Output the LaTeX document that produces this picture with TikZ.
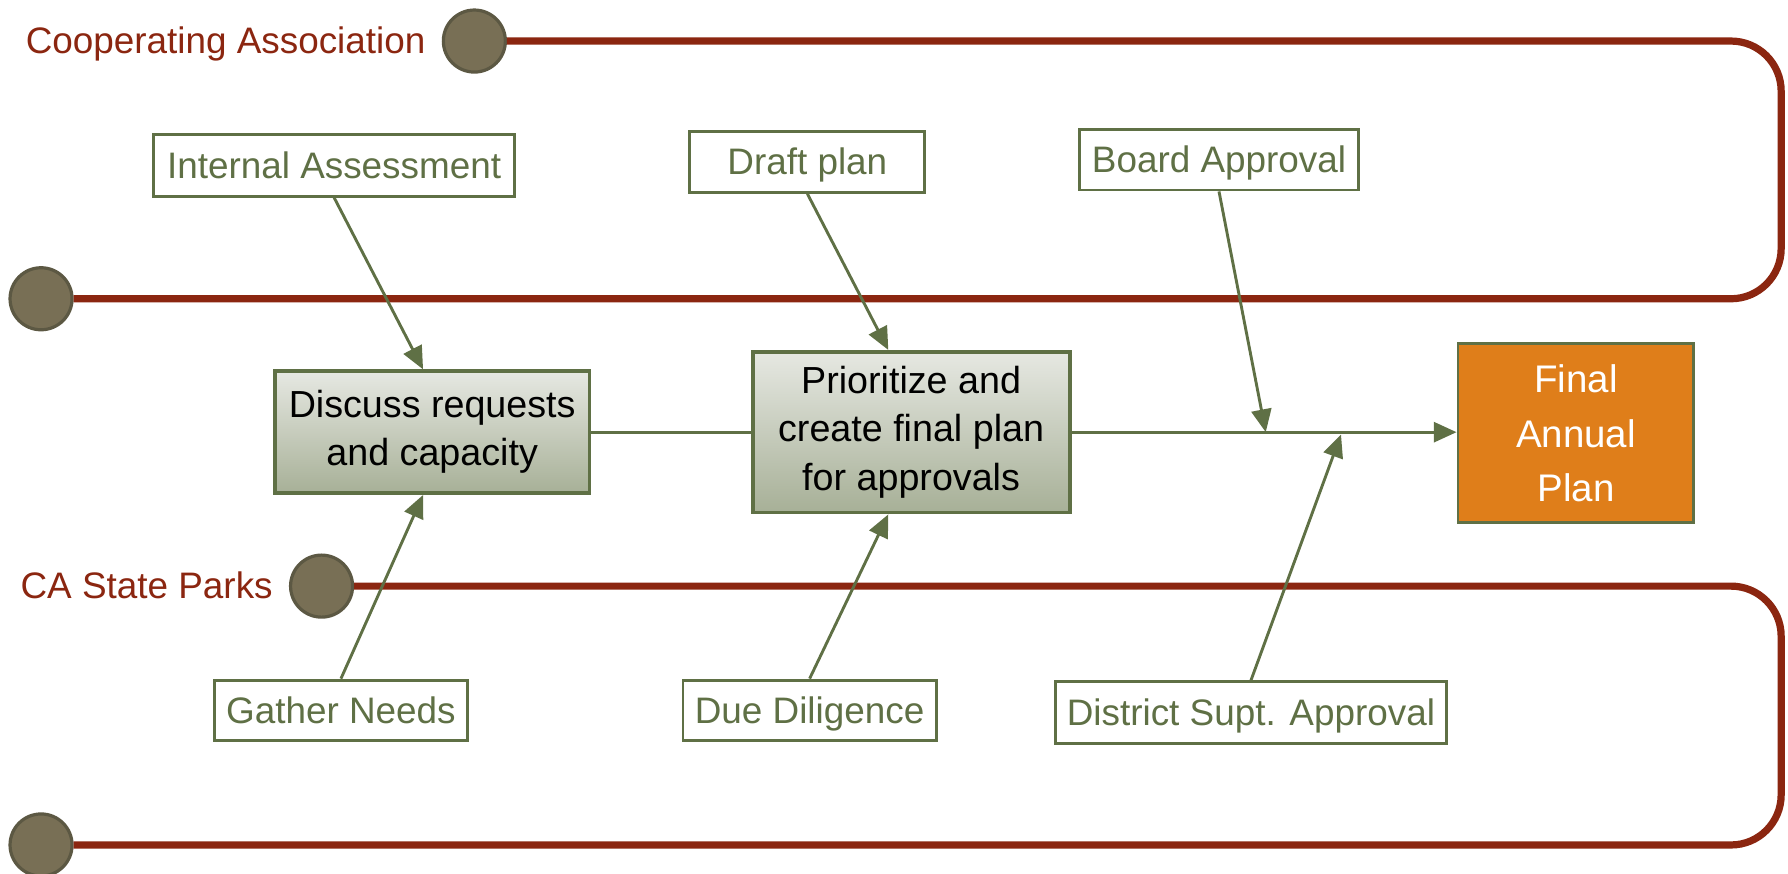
\documentclass[tikz,border=0pt]{standalone}
\usepackage{fontspec}
\setmainfont{Liberation Sans}
\usepackage{xcolor}
\definecolor{rust}{HTML}{8B2610}
\definecolor{moss}{HTML}{5F7045}
\definecolor{stone}{HTML}{786F55}
\definecolor{stonedk}{HTML}{5C5843}
\definecolor{amber}{HTML}{DF7E1A}
\definecolor{sage1}{HTML}{E6E8E2}
\definecolor{sage2}{HTML}{A7B097}
\usetikzlibrary{arrows.meta,positioning,calc}
\tikzset{
  >={Triangle[length=5mm,width=4.4mm]},
  tagbox/.style={draw=moss,line width=1.8pt,fill=white,inner sep=2pt,align=center,text=moss,text height=17pt,text depth=1pt,font=\fontsize{23}{27}\selectfont},
  stepbox/.style={draw=moss,line width=2.4pt,top color=sage1,bottom color=sage2,align=center,font=\fontsize{23.5}{30}\selectfont},
  endbox/.style={draw=moss,line width=1.8pt,fill=amber,text=white,align=center,font=\fontsize{24}{34}\selectfont},
  railend/.style={circle,draw=stonedk,fill=stone,line width=2pt,minimum size=13.6mm,inner sep=0pt},
  rail/.style={draw=rust,line width=4.5pt,rounded corners=11mm},
  lane/.style={text=rust,inner sep=0pt,text height=17pt,text depth=1pt,font=\fontsize{23}{27}\selectfont},
  arr/.style={->,draw=moss,line width=1.8pt},
  link/.style={draw=moss,line width=1.8pt},
}
\begin{document}
\begin{tikzpicture}[x=0.25mm,y=-0.25mm]
\useasboundingbox (0,0) rectangle (1568,766);
% swim lanes
\node[railend] (c1) at (416,36) {};
\node[railend] (c2) at (36,262) {};
\node[railend] (c3) at (282,514) {};
\node[railend] (c4) at (36,741) {};
\node[lane,left=3.5mm of c1] (coop) {Cooperating Association};
\node[lane,left=3.5mm of c3] (csp) {CA State Parks};
\coordinate (t1) at (1562,36); \coordinate (t2) at (1562,262);
\coordinate (b1) at (1562,514); \coordinate (b2) at (1562,741);
\draw[rail] (c1) -- (t1) -- (t2) -- (c2);
\draw[rail] (c3) -- (b1) -- (b2) -- (c4);
% main steps
\node[stepbox,minimum width=69mm,minimum height=26.7mm] (dr) at (379,379) {Discuss requests\\and capacity};
\node[stepbox,minimum width=69.5mm,minimum height=35.2mm] (pr) at (799,379) {Prioritize and\\create final plan\\for approvals};
\node[endbox,minimum width=51.7mm,minimum height=39.2mm] (fp) at (1382,380) {Final\\Annual\\Plan};
% inputs
\node[tagbox,minimum width=79.2mm,minimum height=13.5mm] (ia) at (293,145) {Internal Assessment};
\node[tagbox,minimum width=51.5mm,minimum height=13.3mm] (dp) at (708,142) {Draft plan};
\node[tagbox,minimum width=61mm,minimum height=13.3mm] (ba) at (1069,140) {Board Approval};
\node[tagbox,minimum width=55.5mm,minimum height=13.3mm] (gn) at (299,623) {Gather Needs};
\node[tagbox,minimum width=55.5mm,minimum height=13.3mm] (dd) at (710,623) {Due Diligence};
\node[tagbox,minimum width=85.7mm,minimum height=13.5mm] (ds) at (1097,625) {District Supt. Approval};
\coordinate (j1) at (1110,379); \coordinate (j2) at (1176,381);
\draw[link] (dr) -- (pr);
\draw[arr] (pr.east) -- (fp.west |- pr.east);
\draw[arr] (ia.south) -- ($(dr.north)+(-8,0)$);
\draw[arr] (gn.north) -- ($(dr.south)+(-8,0)$);
\draw[arr] (dp.south) -- ($(pr.north)+(-20,0)$);
\draw[arr] (dd.north) -- ($(pr.south)+(-20,0)$);
\draw[arr] (ba.south) -- (j1);
\draw[arr] (ds.north) -- (j2);
\end{tikzpicture}
\end{document}
